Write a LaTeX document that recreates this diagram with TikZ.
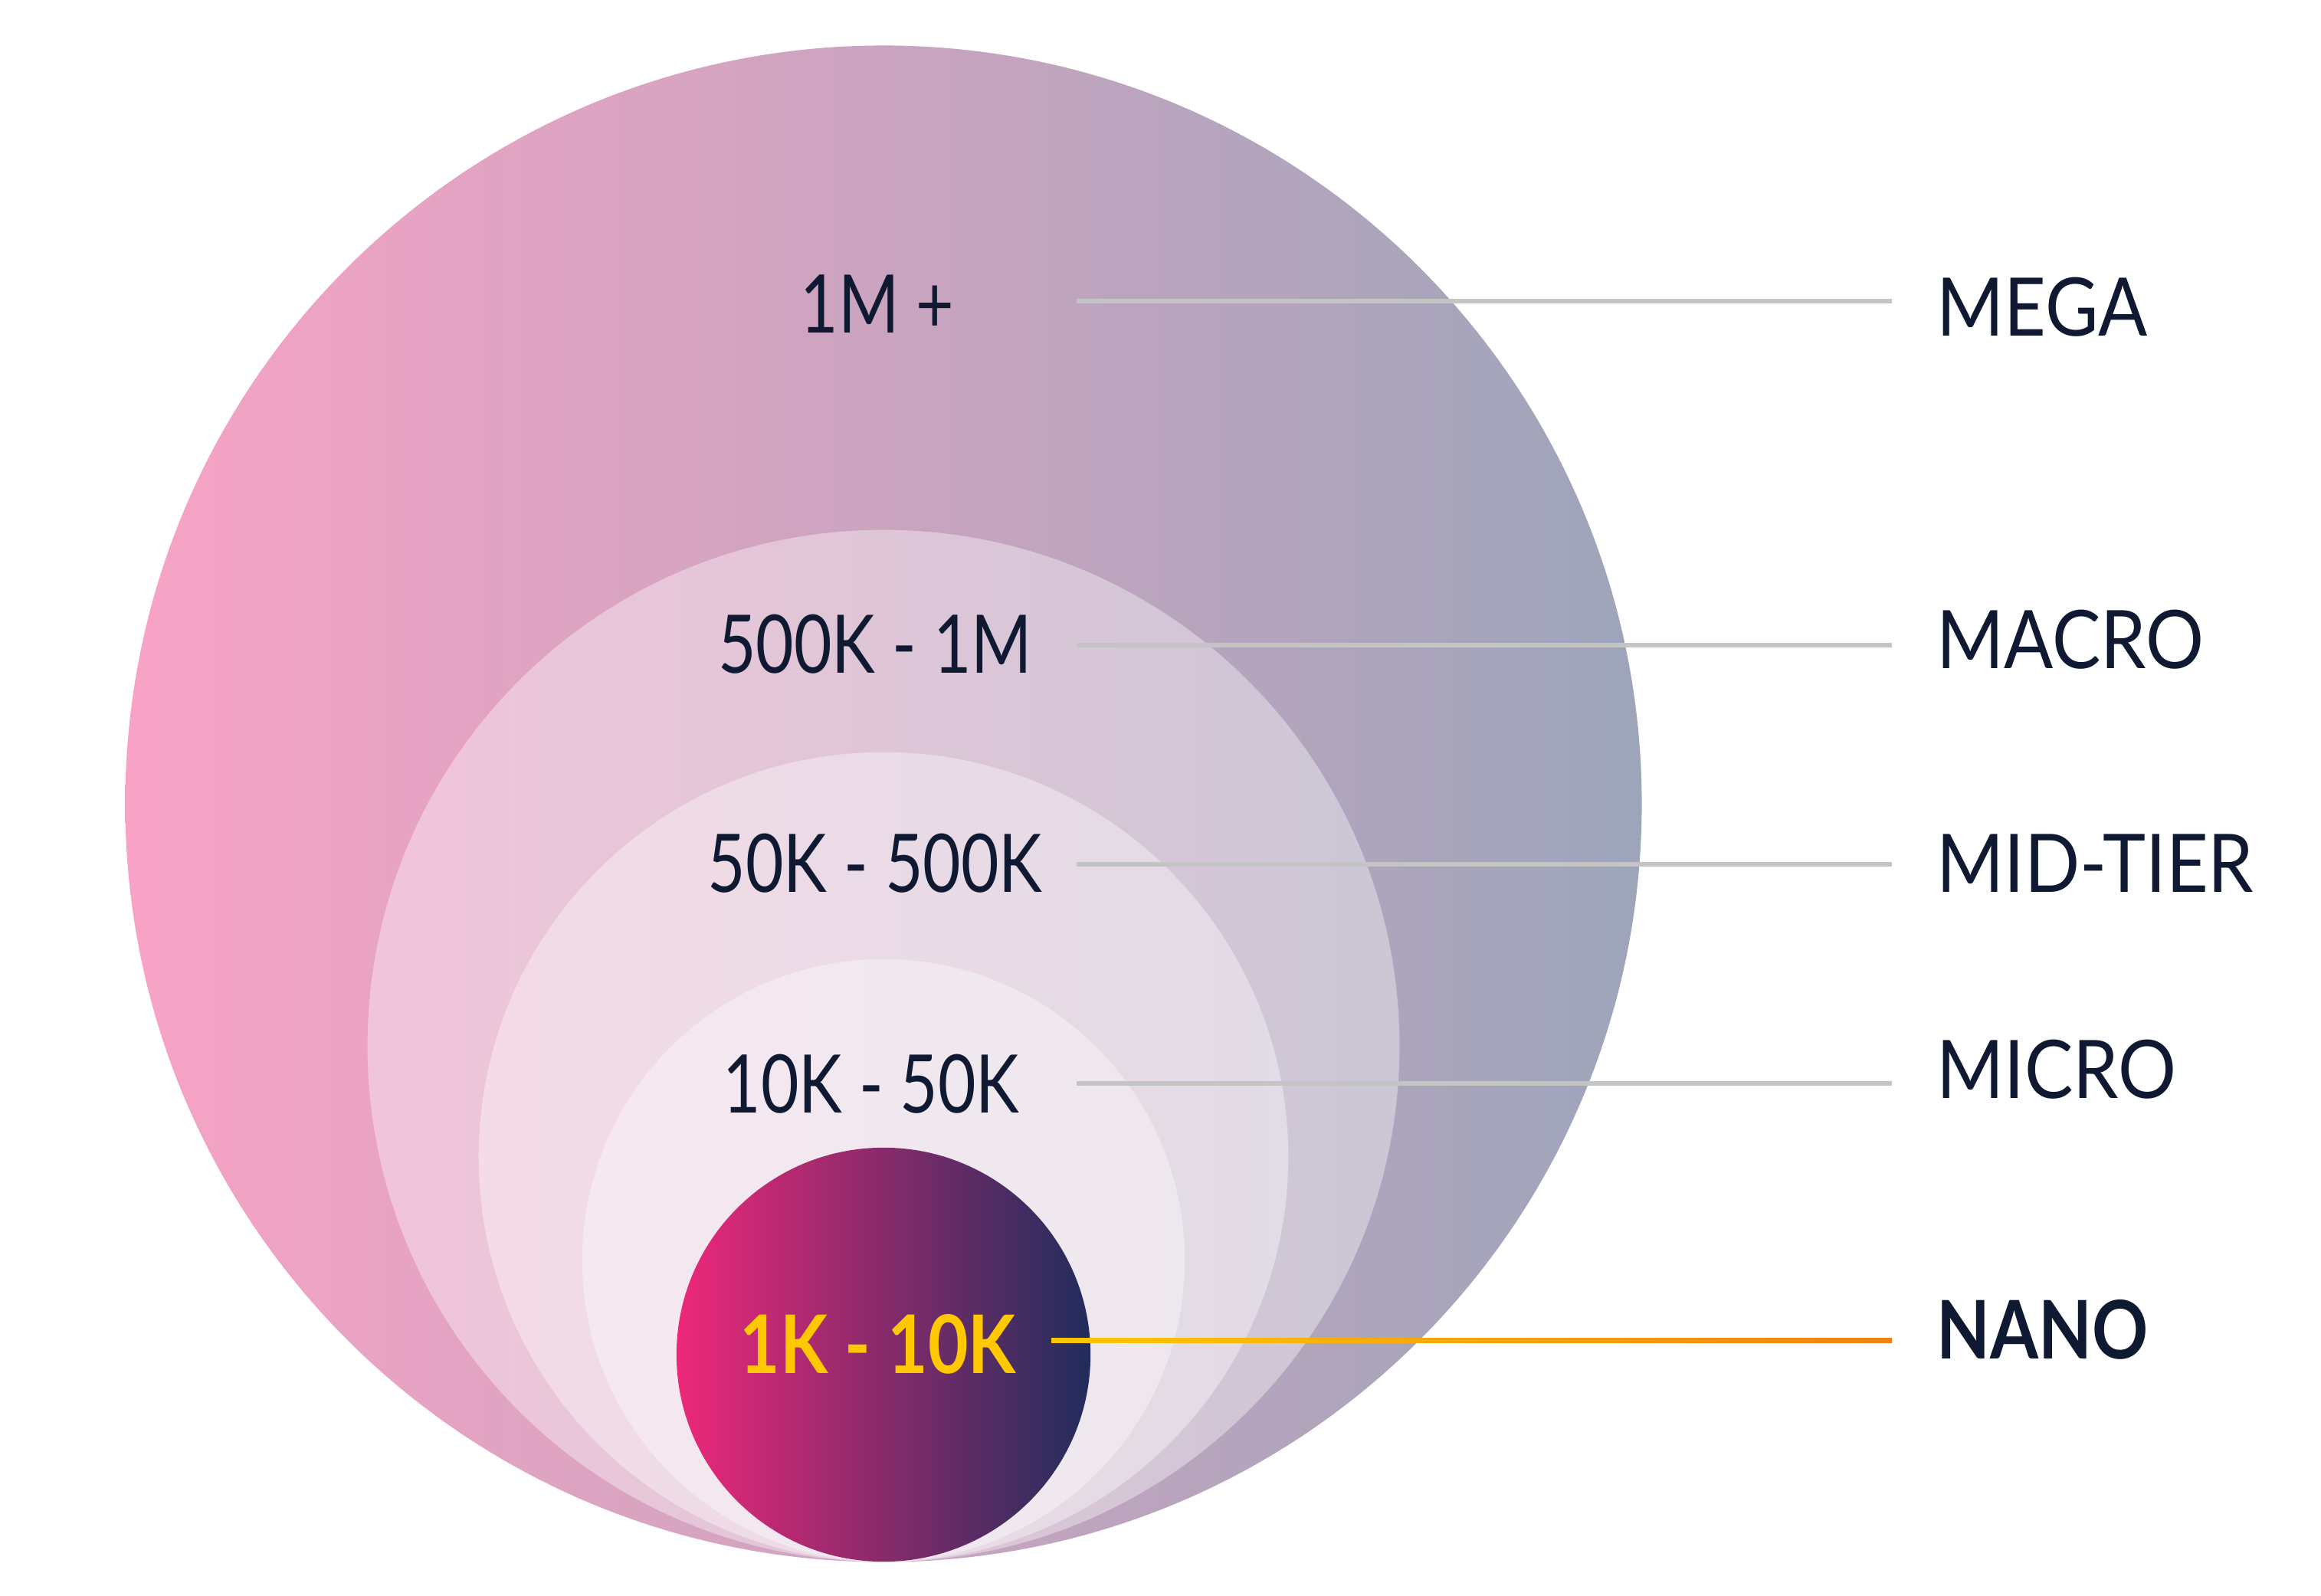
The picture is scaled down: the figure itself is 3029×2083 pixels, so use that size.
\documentclass[tikz,border=0pt]{standalone}
\usepackage{fontspec}
\setmainfont{Lato}
\newfontfamily\rngfont[FakeStretch=0.81]{Lato}
\newfontfamily\tierfont[FakeStretch=0.90]{Lato}
\newfontfamily\nanofont[FakeStretch=0.86]{Lato}
\definecolor{txt}{RGB}{16,25,50}
\definecolor{megaL}{RGB}{248,163,197}
\definecolor{megaR}{RGB}{157,165,186}
\definecolor{nanoL}{RGB}{238,40,122}
\definecolor{nanoR}{RGB}{32,45,92}
\definecolor{lineg}{RGB}{196,196,196}
\definecolor{nanoY}{RGB}{255,200,0}
\definecolor{nanoO}{RGB}{240,130,20}
\tikzset{
  rng/.style={font=\rngfont\fontsize{30pt}{36pt}\selectfont, text=txt, inner sep=0pt, anchor=base},
  tier/.style={font=\tierfont\fontsize{30pt}{36pt}\selectfont, text=txt, inner sep=0pt, anchor=base west},
  conn/.style={draw=lineg, line width=0.06cm},
  overlay circle/.style={fill=white, fill opacity=0.38}
}
\begin{document}
\begin{tikzpicture}[x=0.01cm,y=-0.01cm]
\useasboundingbox (0,0) rectangle (3029,2083);
\fill[white] (0,0) rectangle (3029,2083);
% circles
\shade[left color=megaL, right color=megaR] (1153,1049) circle[radius=9.89cm];
\fill[overlay circle] (1153,1365) circle[radius=6.73cm];
\fill[overlay circle] (1153,1510) circle[radius=5.28cm];
\fill[overlay circle] (1153,1645) circle[radius=3.93cm];
\shade[left color=nanoL, right color=nanoR] (1153,1768) circle[radius=2.70cm];
% range labels
\node[rng] (r1) at (1145,435) {1M +};
\node[rng] (r2) at (1142,879) {500K - 1M};
\node[rng] (r3) at (1142,1165) {50K - 500K};
\node[rng] (r4) at (1137,1453) {10K - 50K};
\node[rng, text=nanoY, font=\nanofont\fontsize{30pt}{36pt}\selectfont\bfseries] (r5) at (1146,1793) {1K - 10K};
% tier labels
\node[tier] (t1) at (2527,439) {MEGA};
\node[tier] (t2) at (2527,873) {MACRO};
\node[tier] (t3) at (2527,1165) {MID-TIER};
\node[tier] (t4) at (2527,1434) {MICRO};
\node[tier, font=\nanofont\fontsize{30pt}{36pt}\selectfont\bfseries] (t5) at (2527,1774) {NANO};
% connectors
\coordinate (a1) at (1405,393);  \coordinate (b1) at (2469,393);
\coordinate (a2) at (1405,842);  \coordinate (b2) at (2469,842);
\coordinate (a3) at (1405,1128); \coordinate (b3) at (2469,1128);
\coordinate (a4) at (1405,1414); \coordinate (b4) at (2469,1414);
\coordinate (a5) at (1372,1747); \coordinate (b5) at (2469,1753);
\draw[conn] (a1) -- (b1);
\draw[conn] (a2) -- (b2);
\draw[conn] (a3) -- (b3);
\draw[conn] (a4) -- (b4);
\shade[left color=nanoY, right color=nanoO] (a5) rectangle (b5);
\end{tikzpicture}
\end{document}
